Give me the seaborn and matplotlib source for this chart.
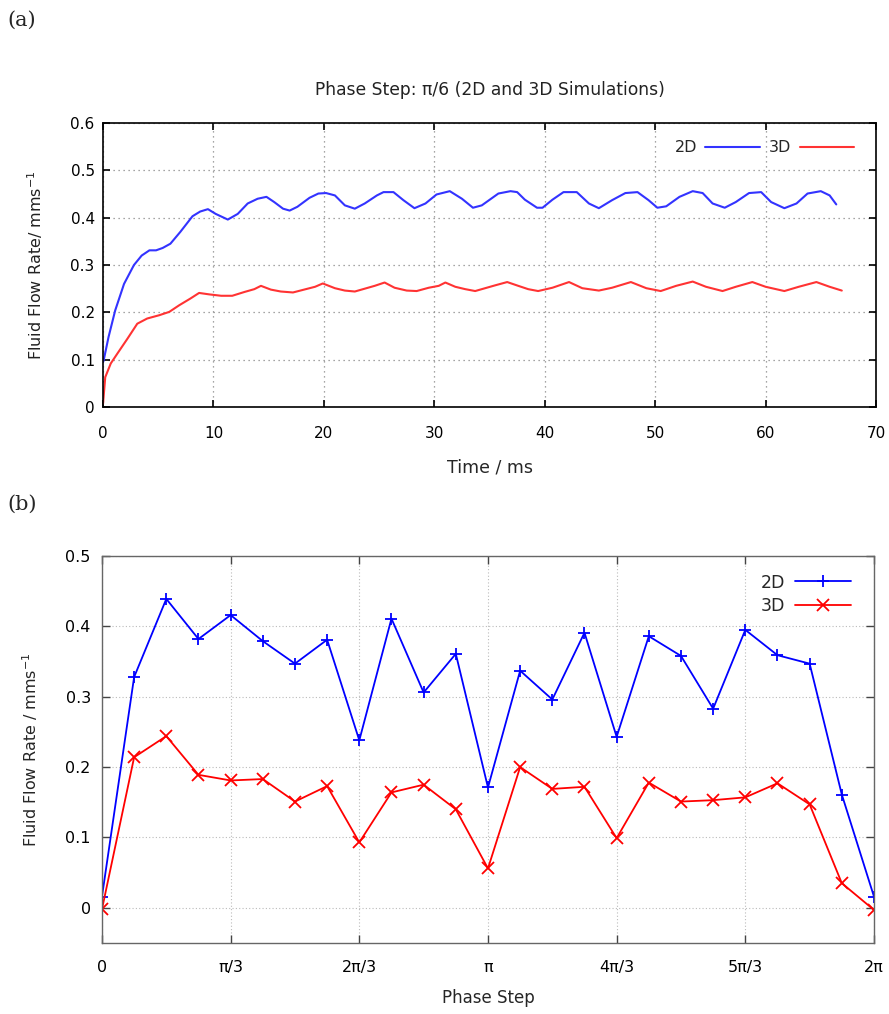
import numpy as np
import pandas as pd
import matplotlib
matplotlib.use("Agg")
import matplotlib.pyplot as plt
import seaborn as sns

# ---------------- data: (a) time series ----------------
t_2d = [0.0, 0.06, 0.5, 1.1, 1.9, 2.8, 3.5, 4.2, 4.8, 5.4, 6.1, 7.0, 8.1, 8.8, 9.5, 10.2, 11.3, 12.2,
        13.1, 14.0, 14.8, 15.5, 16.3, 16.9, 17.6, 18.7, 19.5, 20.2, 21.0, 21.9, 22.8, 23.7, 24.8,
        25.4, 26.3, 27.2, 28.2, 29.2, 30.2, 31.4, 32.5, 33.5, 34.3, 35.8, 36.9, 37.5, 38.2, 39.3,
        39.8, 40.7, 41.7, 42.9, 44.0, 44.9, 46.1, 47.3, 48.4, 49.4, 50.2, 51.0, 52.2, 53.4, 54.3,
        55.2, 56.3, 57.3, 58.5, 59.6, 60.5, 61.7, 62.8, 63.8, 65.0, 65.8, 66.4]
v_2d = [0.095, 0.099, 0.148, 0.204, 0.26, 0.30, 0.32, 0.331, 0.331, 0.336, 0.345, 0.37, 0.403, 0.413,
        0.418, 0.408, 0.396, 0.408, 0.43, 0.44, 0.444, 0.433, 0.419, 0.415, 0.423, 0.442, 0.451,
        0.452, 0.447, 0.426, 0.419, 0.43, 0.447, 0.454, 0.454, 0.437, 0.42, 0.43, 0.449, 0.456,
        0.44, 0.421, 0.426, 0.451, 0.456, 0.454, 0.438, 0.421, 0.421, 0.438, 0.454, 0.454, 0.43,
        0.42, 0.437, 0.452, 0.454, 0.437, 0.421, 0.424, 0.444, 0.456, 0.452, 0.43, 0.421, 0.433,
        0.452, 0.454, 0.433, 0.42, 0.43, 0.451, 0.456, 0.447, 0.428]

t_3d = [0.0, 0.2, 0.7, 1.3, 2.2, 3.1, 4.0, 5.1, 6.0, 6.9, 7.9, 8.7, 9.6, 10.7, 11.7, 12.8, 13.7, 14.3,
        15.2, 16.1, 17.2, 18.2, 19.2, 19.9, 21.0, 21.9, 22.8, 23.7, 24.6, 25.5, 26.4, 27.5, 28.4,
        29.5, 30.4, 31.0, 31.9, 32.8, 33.7, 34.6, 35.5, 36.6, 37.6, 38.5, 39.4, 40.7, 42.2, 43.4,
        44.9, 46.1, 47.8, 49.2, 50.5, 51.9, 53.4, 54.6, 56.1, 57.3, 58.8, 60.0, 61.7, 63.0, 64.6,
        65.8, 66.9]
v_3d = [0.007, 0.063, 0.092, 0.113, 0.144, 0.176, 0.187, 0.194, 0.201, 0.215, 0.229, 0.241, 0.238,
        0.235, 0.235, 0.243, 0.249, 0.256, 0.248, 0.244, 0.242, 0.248, 0.254, 0.261, 0.251, 0.246,
        0.244, 0.25, 0.256, 0.263, 0.252, 0.246, 0.245, 0.252, 0.256, 0.263, 0.254, 0.249, 0.245,
        0.251, 0.257, 0.264, 0.256, 0.249, 0.245, 0.252, 0.264, 0.251, 0.246, 0.252, 0.264, 0.251,
        0.245, 0.256, 0.265, 0.254, 0.245, 0.254, 0.264, 0.254, 0.245, 0.254, 0.264, 0.254, 0.246]

# ---------------- data: (b) phase step ----------------
phase_index = list(range(25))  # steps of pi/12 from 0 to 2pi
flow_2d = [0.016, 0.328, 0.439, 0.382, 0.416, 0.379, 0.347, 0.381, 0.238, 0.411, 0.306, 0.361, 0.171,
           0.337, 0.296, 0.391, 0.243, 0.386, 0.358, 0.283, 0.395, 0.359, 0.347, 0.161, 0.016]
flow_3d = [-0.002, 0.214, 0.244, 0.189, 0.181, 0.183, 0.151, 0.173, 0.093, 0.164, 0.175, 0.140, 0.056,
           0.200, 0.169, 0.172, 0.099, 0.178, 0.151, 0.153, 0.157, 0.177, 0.147, 0.035, -0.003]
phase_tick_labels = ["0", "π/3", "2π/3", "π", "4π/3", "5π/3", "2π"]

sns.set_theme(style="ticks")
plt.rcParams['font.family'] = ['DejaVu Sans']

fig = plt.figure(figsize=(8.89, 10.14), dpi=100)

# ---------- (a) ----------
ax1 = fig.add_axes([0.1159, 0.5986, 0.8695, 0.2801])
df_a = pd.concat([
    pd.DataFrame({"t": t_2d, "v": v_2d, "series": "2D"}),
    pd.DataFrame({"t": t_3d, "v": v_3d, "series": "3D"}),
])
sns.lineplot(data=df_a, x="t", y="v", hue="series", palette={"2D": "#3333ff", "3D": "#ff3333"},
             ax=ax1, linewidth=1.5, estimator=None, sort=False)
ax1.set_xlim(0, 70)
ax1.set_ylim(0, 0.6)
ax1.set_xticks(np.arange(0, 71, 10))
ax1.set_yticks(np.arange(0, 0.61, 0.1))
ax1.set_yticklabels(["0", "0.1", "0.2", "0.3", "0.4", "0.5", "0.6"])
ax1.tick_params(direction="in", length=5, width=1.2, top=True, right=True, labelsize=11,
                colors="black", pad=14)
ax1.tick_params(axis="y", pad=6)
ax1.grid(True, linestyle=(0, (1, 3)), color="#888888", linewidth=0.9)
for s in ax1.spines.values():
    s.set_color("black")
    s.set_linewidth(1.2)
ax1.set_xlabel("Time / ms", fontsize=12.5, labelpad=12)
ax1.set_ylabel("Fluid Flow Rate/ mms$^{-1}$", fontsize=11.5, labelpad=18, color="#222222")
ax1.set_title("Phase Step: π/6 (2D and 3D Simulations)", fontsize=12.3, pad=20, color="#222222")
h, l = ax1.get_legend_handles_labels()
ax1.legend(h, l, loc="upper right", ncol=2, markerfirst=False, frameon=False, fontsize=11.5,
           handlelength=3.4, columnspacing=0.6, handletextpad=0.5, bbox_to_anchor=(0.99, 0.99))

# ---------- (b) ----------
ax2 = fig.add_axes([0.1147, 0.0700, 0.8684, 0.3817])
df_b = pd.concat([
    pd.DataFrame({"p": np.array(phase_index) * np.pi / 12, "v": flow_2d, "series": "2D"}),
    pd.DataFrame({"p": np.array(phase_index) * np.pi / 12, "v": flow_3d, "series": "3D"}),
])
sns.lineplot(data=df_b, x="p", y="v", hue="series", style="series",
             markers={"2D": "+", "3D": "x"}, dashes=False,
             palette={"2D": "#0000ff", "3D": "#ff0000"}, ax=ax2, linewidth=1.3,
             markersize=8.5, markeredgewidth=1.3, estimator=None, sort=False)
for ln in ax2.lines:
    ln.set_markeredgecolor(ln.get_color())
ax2.set_xlim(0, 2 * np.pi)
ax2.set_ylim(-0.05, 0.5)
ax2.set_xticks(np.arange(0, 7) * np.pi / 3)
ax2.set_xticklabels(phase_tick_labels, fontsize=11.5)
ax2.set_yticks(np.arange(0, 0.51, 0.1))
ax2.set_yticklabels(["0", "0.1", "0.2", "0.3", "0.4", "0.5"], fontsize=11.5)
ax2.tick_params(direction="in", length=6, width=1.0, top=True, right=True, colors="#444444",
                labelcolor="black", pad=12)
ax2.tick_params(axis="y", pad=8)
ax2.grid(True, linestyle=(0, (1, 2)), color="#bbbbbb", linewidth=0.8)
for s in ax2.spines.values():
    s.set_color("#666666")
    s.set_linewidth(1.0)
ax2.set_xlabel("Phase Step", fontsize=12, labelpad=10)
ax2.set_ylabel("Fluid Flow Rate / mms$^{-1}$", fontsize=11.5, labelpad=18)
h, l = ax2.get_legend_handles_labels()
for hh in h:
    hh.set_markeredgecolor(hh.get_color())
    hh.set_markersize(8.5)
ax2.legend(h, l, loc="upper right", markerfirst=False, frameon=False, fontsize=12.5,
           handlelength=3.2, handletextpad=0.6, labelspacing=0.3, bbox_to_anchor=(0.99, 0.995))

fig.text(0.008, 0.975, "(a)", fontsize=15, family="DejaVu Serif")
fig.text(0.008, 0.497, "(b)", fontsize=15, family="DejaVu Serif")

fig.savefig("out.png", dpi=100)
